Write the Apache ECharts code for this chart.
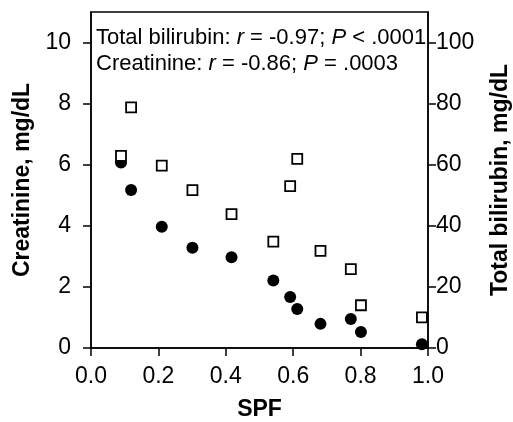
<!DOCTYPE html>
<html>
<head>
<meta charset="utf-8">
<script src="https://cdn.jsdelivr.net/npm/echarts@6/dist/echarts.min.js"></script>
<style>
html, body { margin: 0; padding: 0; background: #fff; }
#chart { width: 513px; height: 422px; }
</style>
</head>
<body>
<div id="chart"></div>
<script>
var spf = [0.089, 0.119, 0.210, 0.301, 0.417, 0.541, 0.591, 0.612, 0.681, 0.771, 0.801, 0.982];
var creatinine = [6.07, 5.17, 3.97, 3.28, 2.97, 2.21, 1.67, 1.28, 0.79, 0.95, 0.52, 0.12];
var bilirubin = [62.9, 78.8, 59.7, 51.7, 43.8, 34.8, 53.0, 61.9, 31.8, 25.8, 14.0, 10.0];
var leftTicks = [0, 2, 4, 6, 8, 10];
var rightTicks = [0, 20, 40, 60, 80, 100];

var font = '"Liberation Sans", Arial, sans-serif';

function pairs(xs, ys) {
	var out = [];
	for (var i = 0; i < xs.length; i++) {
		out.push([xs[i], ys[i]]);
	}
	return out;
}

var chart = echarts.init(document.getElementById('chart'));
var option = {
	animation: false,
	grid: {
		left: 91,
		right: 85,
		top: 12,
		bottom: 74,
		containLabel: false,
		outerBoundsMode: 'none',
		show: true,
		borderColor: '#000',
		borderWidth: 1.5,
		backgroundColor: 'transparent'
	},
	xAxis: {
		type: 'value',
		min: 0,
		max: 1,
		interval: 0.2,
		name: 'SPF',
		nameLocation: 'middle',
		nameGap: 50,
		nameTextStyle: { color: '#000', fontSize: 23, fontWeight: 'bold', fontFamily: font },
		splitLine: { show: false },
		axisLine: { show: true, lineStyle: { color: '#000', width: 1.5 } },
		axisTick: { show: true, inside: false, length: 8, lineStyle: { color: '#000', width: 1.5 } },
		axisLabel: {
			color: '#000', fontSize: 23, fontFamily: font, margin: 17,
			formatter: function (v) { return v.toFixed(1); }
		}
	},
	yAxis: [
		{
			type: 'value',
			position: 'left',
			min: 0,
			max: 11,
			name: 'Creatinine, mg/dL',
			nameLocation: 'middle',
			nameGap: 56,
			nameTextStyle: { color: '#000', fontSize: 23, fontWeight: 'bold', fontFamily: font },
			splitLine: { show: false },
			axisLine: { show: true, lineStyle: { color: '#000', width: 1.5 } },
			axisTick: { show: true, length: 8, customValues: leftTicks, lineStyle: { color: '#000', width: 1.5 } },
			axisLabel: { color: '#000', fontSize: 23, fontFamily: font, margin: 20, customValues: leftTicks }
		},
		{
			type: 'value',
			position: 'right',
			min: 0,
			max: 110,
			name: 'Total bilirubin, mg/dL',
			nameLocation: 'middle',
			nameGap: 61,
			nameRotate: 90,
			nameTextStyle: { color: '#000', fontSize: 23, fontWeight: 'bold', fontFamily: font },
			splitLine: { show: false },
			axisLine: { show: true, lineStyle: { color: '#000', width: 1.5 } },
			axisTick: { show: true, length: 8, customValues: rightTicks, lineStyle: { color: '#000', width: 1.5 } },
			axisLabel: { color: '#000', fontSize: 23, fontFamily: font, margin: 8, customValues: rightTicks }
		}
	],
	graphic: [
		{
			type: 'text', left: 96, top: 27,
			style: {
				text: 'Total bilirubin: {i|r} = -0.97; {i|P} < .0001',
				fill: '#000', fontSize: 22, fontFamily: font,
				rich: { i: { fontStyle: 'italic', fontSize: 22, fontFamily: font, fill: '#000' } }
			}
		},
		{
			type: 'text', left: 96, top: 53,
			style: {
				text: 'Creatinine: {i|r} = -0.86; {i|P} = .0003',
				fill: '#000', fontSize: 22, fontFamily: font,
				rich: { i: { fontStyle: 'italic', fontSize: 22, fontFamily: font, fill: '#000' } }
			}
		}
	],
	series: [
		{
			name: 'Creatinine',
			type: 'scatter',
			yAxisIndex: 0,
			symbol: 'circle',
			symbolSize: 12,
			itemStyle: { color: '#000', opacity: 1 },
			data: pairs(spf, creatinine)
		},
		{
			name: 'Total bilirubin',
			type: 'scatter',
			yAxisIndex: 1,
			symbol: 'rect',
			symbolSize: 10,
			itemStyle: { color: '#fff', borderColor: '#000', borderWidth: 1.8, opacity: 1 },
			data: pairs(spf, bilirubin)
		}
	]
};
chart.setOption(option);
</script>
</body>
</html>
